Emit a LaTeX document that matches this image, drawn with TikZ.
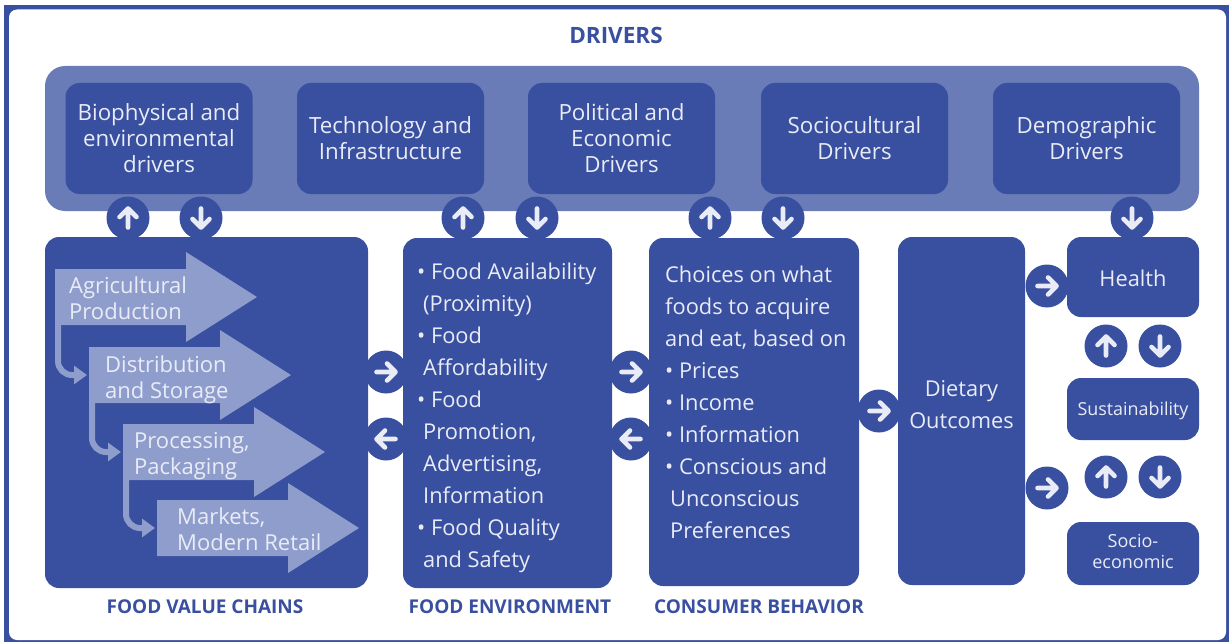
\documentclass[tikz,border=0pt]{standalone}
\usepackage{fontspec}
\setmainfont{Open Sans}
\usetikzlibrary{arrows.meta}
\definecolor{navy}{HTML}{394F9F}
\definecolor{band}{HTML}{6A7CB8}
\definecolor{chain}{HTML}{8F9DCC}
\definecolor{pale}{HTML}{E9ECF6}
\tikzset{
  box/.style={fill=navy, rounded corners=14pt, text=pale, align=center, inner sep=0pt},
  title/.style={text=navy, font=\bfseries\fontsize{19}{22}\selectfont},
  badge/.style={circle, fill=navy, minimum size=43pt, inner sep=0pt},
  glyph/.style={draw=pale, line width=4.6pt, line cap=round, line join=round},
  chainline/.style={draw=chain, line width=6pt, rounded corners=14pt, shorten >=2pt, -{Triangle[length=13pt,width=18pt]}},
}
\begin{document}
\begin{tikzpicture}[x=1pt, y=-1pt]
    \useasboundingbox (0,0) rectangle (1229,642);
    \fill[navy] (4,5) rectangle (1229,642);
    \fill[white, rounded corners=8pt] (9,9.5) rectangle (1226,640);

    \node[title, font=\bfseries\fontsize{22.5}{24}\selectfont] (driverstitle) at (616,35) {DRIVERS};
    \fill[band, rounded corners=20pt] (45,66) rectangle (1199,211);

    % drivers
    \foreach \nm/\x/\txt in {bio/159/{Biophysical and\\environmental\\drivers}, tech/390.5/{Technology and\\Infrastructure}, pol/621.5/{Political and\\Economic\\Drivers}, soc/854.5/{Sociocultural\\Drivers}, dem/1086.5/{Demographic\\Drivers}}
        \node[box, minimum width=187pt, minimum height=111pt, font=\fontsize{22.3}{26}\selectfont] (\nm) at (\x,138.5) {\txt};

    % main blocks
    \node[box, minimum width=323pt, minimum height=351pt] (fvc) at (206.5,412.5) {};
    \node[box, minimum width=209pt, minimum height=350pt] (env) at (507.5,413) {};
    \node[box, minimum width=210pt, minimum height=348pt] (cons) at (754,412) {};
    \node[box, minimum width=127pt, minimum height=348pt, font=\fontsize{21.8}{31}\selectfont] (diet) at (961.5,411) {\raisebox{13pt}{\shortstack{Dietary\\[7pt]Outcomes}}};
    \node[box, minimum width=132pt, minimum height=80pt, font=\fontsize{21.8}{26}\selectfont] (health) at (1133,277) {\rule{0pt}{20pt}Health};
    \node[box, minimum width=132pt, minimum height=62pt, font=\fontsize{17.9}{20}\selectfont] (sust) at (1133,409) {\rule{0pt}{17.5pt}Sustainability};
    \node[box, minimum width=132pt, minimum height=63pt, font=\fontsize{18}{20}\selectfont] (socio) at (1133,553.5) {\raisebox{4pt}{\shortstack{Socio-\\[5pt]economic}}};

    \node[anchor=north west, text=pale, align=left, inner sep=0pt, font=\fontsize{21.8}{32}\selectfont] (envtxt) at (417,263)
        {• Food Availability\\\hspace{6pt}(Proximity)\\• Food\\\hspace{6pt}Affordability\\• Food\\\hspace{6pt}Promotion,\\\hspace{6pt}Advertising,\\\hspace{6pt}Information\\• Food Quality\\\hspace{6pt}and Safety};
    \node[anchor=north west, text=pale, align=left, inner sep=0pt, font=\fontsize{21.8}{32}\selectfont] (constxt) at (665,266)
        {Choices on what\\foods to acquire\\and eat, based on\\• Prices\\• Income\\• Information\\• Conscious and\\\hspace{5pt}Unconscious\\\hspace{5pt}Preferences};

    % value chain arrows
    \foreach \nm/\x/\y/\dx/\dy/\txt in {aone/55/297/14/1/{Agricultural\\Production}, atwo/89/375/16/5/{Distribution\\and Storage}, athree/123/452/11/4/{Processing,\\Packaging}, afour/157/528/20/1/{Markets,\\Modern Retail}} {
        \fill[chain] (\x,\y-28) -- ++(131,0) -- ++(0,-17) -- (\x+202,\y) -- (\x+131,\y+45) -- ++(0,-17) -- (\x,\y+28) -- cycle;
        \coordinate (\nm) at (\x,\y);
        \coordinate (\nm-out) at (\x+3,\y+28);
        \node[anchor=west, text=pale, align=left, inner sep=0pt, font=\fontsize{22}{26}\selectfont] (\nm-txt) at (\x+\dx,\y+\dy) {\txt};
    }
    \draw[chainline] (aone-out) |- (atwo);
    \draw[chainline] (atwo-out) |- (athree);
    \draw[chainline] (athree-out) |- (afour);

    % titles
    \node[title] (fvctitle) at (205,607) {FOOD VALUE CHAINS};
    \node[title] (envtitle) at (510,607) {FOOD ENVIRONMENT};
    \node[title] (constitle) at (759,607) {CONSUMER BEHAVIOR};

    % badges
    \foreach \nm/\x/\y/\a in {ba/128/218/90, bb/201/218/-90, bc/463/218/90, bd/537/218/-90, be/710/218/90, bf/783/218/-90, bg/1132/218/-90,
        bh/386/372/0, bi/386/439/180, bj/631/372/0, bk/631/439/180, bl/879/411/0, bm/1047/286/0, bn/1047/488/0,
        bo/1106/346/90, bp/1160/346/-90, bq/1106/477/90, br/1160/477/-90} {
        \node[badge] (\nm) at (\x,\y) {};
        \draw[glyph, shift={(\nm.center)}, rotate=\a] (-9.5,0) -- (9.5,0) (1,-8.5) -- (9.5,0) -- (1,8.5);
    }
\end{tikzpicture}
\end{document}
